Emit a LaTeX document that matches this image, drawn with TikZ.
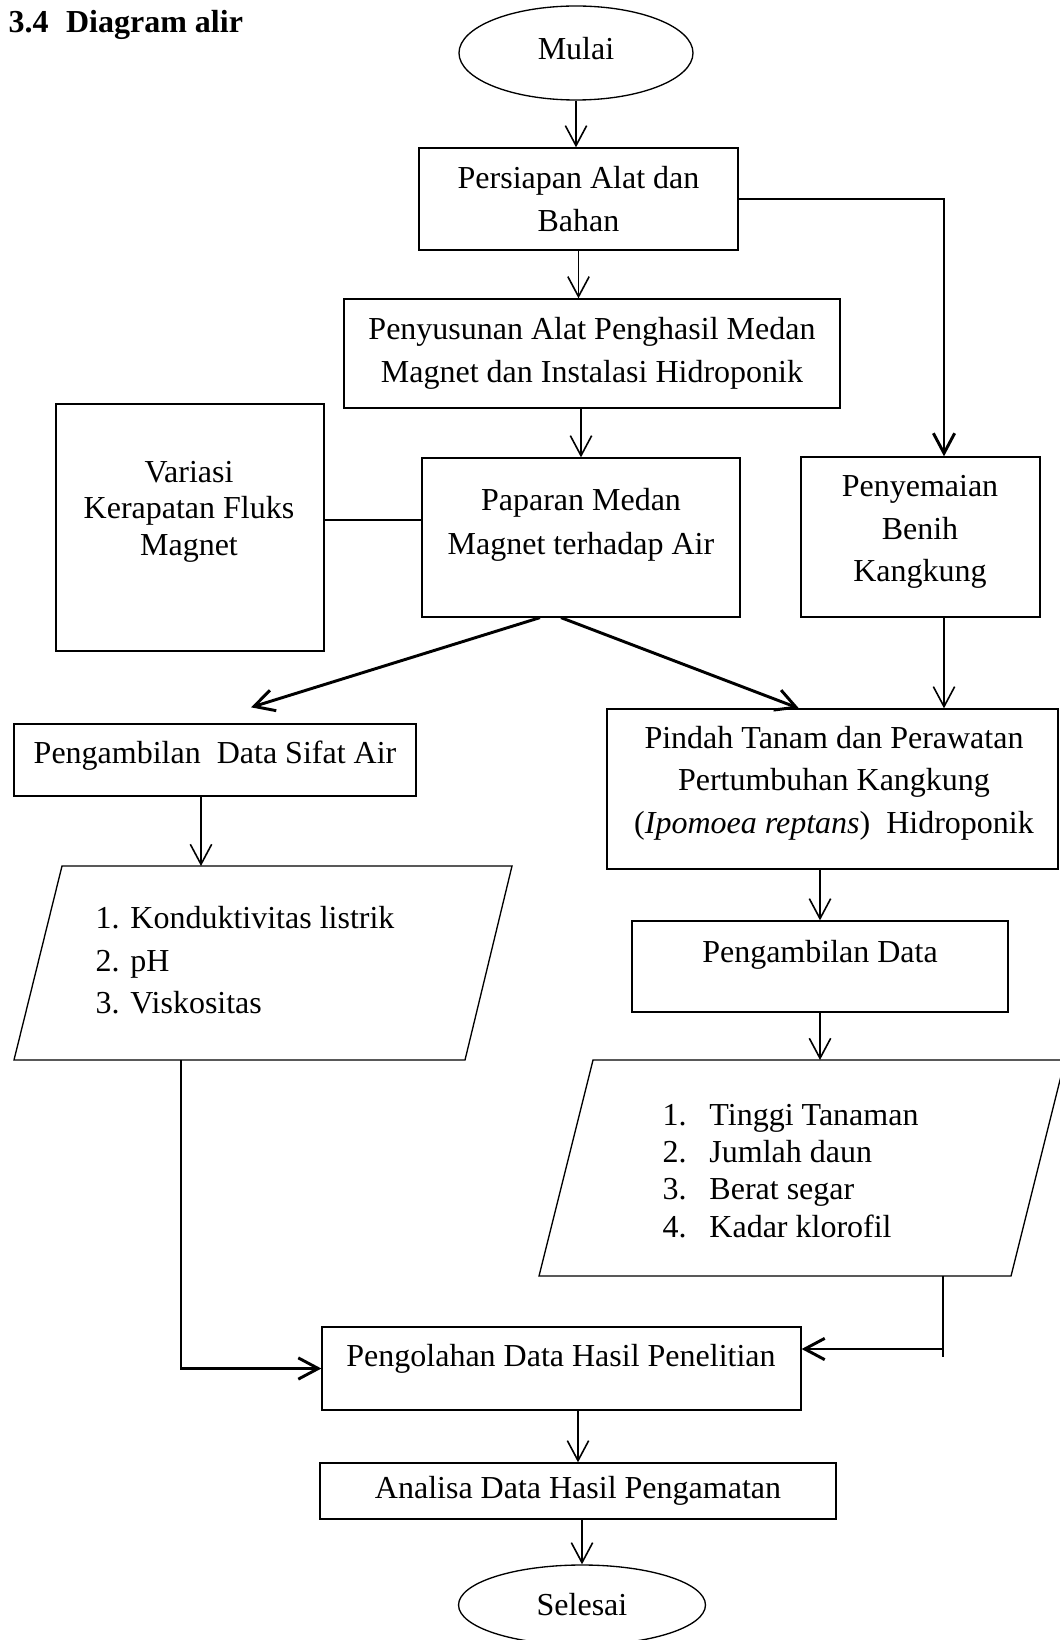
\documentclass[tikz,border=0pt]{standalone}
\usepackage{fontspec}
\setmainfont{Liberation Serif}
\usetikzlibrary{arrows.meta}
\usetikzlibrary{shapes.geometric}

\newcommand{\nomor}[2]{\makebox[#1][l]{#2}}

\tikzset{
  kotak/.style={draw,line width=0.5pt,align=center,inner sep=0pt},
  oval/.style={draw,ellipse,line width=0.5pt,inner sep=0pt},
  teks/.style={align=center,inner sep=0pt},
  bentuk/.style={line width=0.5pt},
  garis/.style={line width=0.6pt},
  panah/.style={->,line width=0.6pt},
  panahtebal/.style={->,line width=1.1pt},
}

\begin{document}
\begin{tikzpicture}[x=0.375pt,y=-0.375pt,>={Straight Barb[length=7.5pt,width=8pt]},font=\fontsize{12}{16}\selectfont]
    \useasboundingbox (0,0) rectangle (1059,1640);
    \node[anchor=base west,inner sep=0pt,font=\fontsize{12}{16}\selectfont\bfseries] (judul) at (8,33) {3.4\hspace{0.55em}Diagram alir};
    % alur utama
    \node[oval,minimum width=87.75pt,minimum height=35.25pt] (mulai) at (576,53) {};
    \node[teks] (mulaiT) at (576,49) {Mulai};
    \node[kotak,minimum width=119.6pt,minimum height=38.25pt] (persiapan) at (578.5,199) {Persiapan Alat dan\\Bahan};
    \node[kotak,minimum width=186pt,minimum height=40.9pt] (penyusunan) at (592,353.5) {Penyusunan Alat Penghasil Medan\\Magnet dan Instalasi Hidroponik};
    \node[kotak,minimum width=100.5pt,minimum height=92.6pt] (variasi) at (190,527.5) {};
    \node[teks,font=\fontsize{12}{13.7}\selectfont] (variasiT) at (189,511.4) {Variasi\\Kerapatan Fluks\\Magnet};
    \node[kotak,minimum width=119.25pt,minimum height=59.6pt] (paparan) at (581,537.5) {};
    \node[teks,font=\fontsize{12}{16.5}\selectfont] (paparanT) at (581,524.5) {Paparan Medan\\Magnet terhadap Air};
    \node[kotak,minimum width=89.6pt,minimum height=60pt] (penyemaian) at (920.5,537) {};
    \node[teks] (penyemaianT) at (920,532) {Penyemaian\\Benih\\Kangkung};
    \node[kotak,minimum width=150.75pt,minimum height=27pt] (sifatAir) at (215,760) {};
    \node[teks] (sifatAirT) at (215,756) {Pengambilan\ \ Data Sifat Air};
    \node[kotak,minimum width=169.1pt,minimum height=60pt] (pindah) at (832.5,789) {};
    \node[teks] (pindahT) at (834,783) {Pindah Tanam dan Perawatan\\Pertumbuhan Kangkung\\(\textit{Ipomoea reptans})\ \ Hidroponik};
    \node[kotak,minimum width=141pt,minimum height=34.1pt] (ambilData) at (820,966.5) {};
    \node[teks] (ambilDataT) at (820,954.5) {Pengambilan Data};
    \node[kotak,minimum width=179.6pt,minimum height=31.1pt] (pengolahan) at (561.5,1368.5) {};
    \node[teks] (pengolahanT) at (561,1358.5) {Pengolahan Data Hasil Penelitian};
    \node[kotak,minimum width=193.5pt,minimum height=21pt] (analisa) at (578,1491) {Analisa Data Hasil Pengamatan};
    \node[oval,minimum width=92.6pt,minimum height=30pt] (selesai) at (582,1605) {Selesai};
    % data keluaran
    \draw[bentuk] (62,866) -- (512,866) -- (465,1060) -- (14,1060) -- cycle;
    \node[anchor=north west,inner sep=0pt,align=left,font=\fontsize{12}{15.9}\selectfont] (daftarAir) at (95,906) {\nomor{13.1pt}{1.}Konduktivitas listrik\\\nomor{13.1pt}{2.}pH\\\nomor{13.1pt}{3.}Viskositas};
    \draw[bentuk] (593,1060) -- (1065,1060) -- (1011,1276) -- (539,1276) -- cycle;
    \node[anchor=north west,inner sep=0pt,align=left,font=\fontsize{12}{14}\selectfont] (daftarTanaman) at (662,1103.5) {\nomor{17.6pt}{1.}Tinggi Tanaman\\\nomor{17.6pt}{2.}Jumlah daun\\\nomor{17.6pt}{3.}Berat segar\\\nomor{17.6pt}{4.}Kadar klorofil};
    \coordinate (jalurKanan) at (944,199);
    \coordinate (variasiSambung) at (324,520);
    \coordinate (airAtas) at (201,866);
    \coordinate (airBawah) at (181,1060);
    \coordinate (tanamanAtas) at (820,1060);
    \coordinate (tanamanBawah) at (943,1276);
    \coordinate (tanamanSambung) at (943,1349);
    \coordinate (tanamanUjung) at (943,1357);
    % panah
    \draw[panah] (mulai.south) -- (mulai.south |- persiapan.north);
    \draw[panah] (persiapan.south) -- (persiapan.south |- penyusunan.north);
    \draw[panah] (paparan.north |- penyusunan.south) -- (paparan.north);
    \draw[panahtebal] (persiapan.east) -- (jalurKanan) -- (jalurKanan |- penyemaian.north);
    \draw[garis] (variasiSambung) -- (variasiSambung -| paparan.west);
    \draw[panahtebal] ([xshift=-15.4pt]paparan.south) -- ([xshift=13.5pt,yshift=6pt]sifatAir.north);
    \draw[panahtebal] ([xshift=-7.5pt]paparan.south) -- ([xshift=-12.6pt]pindah.north);
    \draw[panah] (jalurKanan |- penyemaian.south) -- (jalurKanan |- pindah.north);
    \draw[panah] (airAtas |- sifatAir.south) -- (airAtas);
    \draw[panah] (ambilData.north |- pindah.south) -- (ambilData.north);
    \draw[panah] (ambilData.south) -- (tanamanAtas);
    \draw[garis] (tanamanBawah) -- (tanamanUjung);
    \draw[panahtebal] (tanamanSambung) -- (tanamanSambung -| pengolahan.east);
    \draw[panahtebal] (airBawah) |- (pengolahan.west);
    \draw[panah] (analisa.north |- pengolahan.south) -- (analisa.north);
    \draw[panah] (selesai.north |- analisa.south) -- (selesai.north);
\end{tikzpicture}
\end{document}
